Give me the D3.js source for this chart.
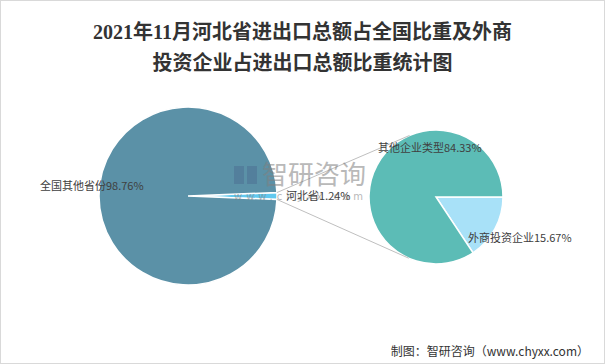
<!DOCTYPE html>
<html>
<head>
<meta charset="utf-8">
<style>
  body { margin: 0; background: #fff; }
  svg { display: block; }
  .title { font-family: "Liberation Serif", "Noto Sans CJK SC", serif; font-size: 20px; font-weight: bold; fill: #333; }
  .lbl { font-family: "Noto Sans CJK SC", sans-serif; font-size: 11px; fill: #404040; }
  .foot { font-family: "Noto Sans CJK SC", sans-serif; font-size: 12px; fill: #333; }
</style>
</head>
<body>
<script src="https://cdn.jsdelivr.net/npm/d3@7"></script>
<script>
// data
var titleLines = ["2021年11月河北省进出口总额占全国比重及外商", "投资企业占进出口总额比重统计图"];
var mainNames = ["河北省", "全国其他省份"];
var mainValues = [1.24, 98.76];
var subNames = ["外商投资企业", "其他企业类型"];
var subValues = [15.67, 84.33];
var source = "制图：智研咨询（www.chyxx.com）";

var W = 605, H = 364;
var svg = d3.select("body").append("svg").attr("width", W).attr("height", H);

svg.append("rect").attr("x", 0.5).attr("y", 0.5).attr("width", W - 1).attr("height", H - 1)
  .attr("fill", "#fff").attr("stroke", "#d9d9d9");

// title
svg.selectAll(".title").data(titleLines).enter().append("text")
  .attr("class", "title").attr("x", W / 2).attr("y", function (d, i) { return 39 + i * 31; })
  .attr("text-anchor", "middle").text(function (d) { return d; });

// left pie
var c1 = { x: 188, y: 196, r: 89 };
var c2 = { x: 436, y: 197, r: 67 };
var half = mainValues[0] / 100 * Math.PI; // small slice centred on the east side
var pie1 = d3.pie().sort(null).value(function (d) { return d; })
  .startAngle(Math.PI / 2 - half).endAngle(Math.PI / 2 - half + 2 * Math.PI);
var arcs1 = pie1(mainValues);
var arc1 = d3.arc().innerRadius(0).outerRadius(c1.r);
var col1 = ["#62c9ef", "#5b91a7"];

var g1 = svg.append("g").attr("transform", "translate(" + c1.x + "," + c1.y + ")");
g1.selectAll("path").data(arcs1).enter().append("path")
  .attr("d", arc1).attr("fill", function (d, i) { return col1[i]; })
  .attr("stroke", "#fff").attr("stroke-width", 1.5);

// right pie
var pie2 = d3.pie().sort(null).value(function (d) { return d; })
  .startAngle(Math.PI / 2).endAngle(Math.PI / 2 + 2 * Math.PI);
var arcs2 = pie2(subValues);
var arc2 = d3.arc().innerRadius(0).outerRadius(c2.r);
var col2 = ["#a8e1f8", "#5cbcb6"];

var g2 = svg.append("g").attr("transform", "translate(" + c2.x + "," + c2.y + ")");
g2.selectAll("path").data(arcs2).enter().append("path")
  .attr("d", arc2).attr("fill", function (d, i) { return col2[i]; })
  .attr("stroke", "#fff").attr("stroke-width", 1.5);

// connector lines: from small slice edges, tangent to second pie
var s = arcs1[0];
[s.startAngle, s.endAngle].forEach(function (a, k) {
  var px = c1.x + c1.r * Math.sin(a), py = c1.y - c1.r * Math.cos(a);
  var dx = px - c2.x, dy = py - c2.y, d = Math.sqrt(dx * dx + dy * dy);
  var base = Math.atan2(dy, dx), t = Math.acos(c2.r / d);
  var ang = k === 0 ? base + t : base - t;
  svg.append("line").attr("x1", px).attr("y1", py)
    .attr("x2", c2.x + c2.r * Math.cos(ang)).attr("y2", c2.y + c2.r * Math.sin(ang))
    .attr("stroke", "#bfbfbf").attr("stroke-width", 1);
});

// watermark
var wm = svg.append("g").attr("opacity", 0.55);
wm.append("rect").attr("x", 234).attr("y", 166).attr("width", 10).attr("height", 18).attr("fill", "#4d7194");
wm.append("rect").attr("x", 247).attr("y", 166).attr("width", 10).attr("height", 18).attr("fill", "#4d7194");
wm.append("text").attr("x", 262).attr("y", 184).attr("fill", "#808080")
  .style("font-family", "Noto Sans CJK SC").style("font-size", "26px").text("智研咨询");
wm.append("text").attr("x", 234).attr("y", 200).attr("fill", "#808080")
  .style("font-family", "DejaVu Sans").style("font-size", "10px").style("letter-spacing", "4px").text("www.chyxx.com");

// labels
var labels = [
  { text: mainNames[1] + mainValues[1].toFixed(2) + "%", x: c1.x - 148, y: c1.y - 6, anchor: "start" },
  { text: mainNames[0] + mainValues[0].toFixed(2) + "%", x: c1.x + c1.r + 9, y: c1.y + 4, anchor: "start" },
  { text: subNames[1] + subValues[1].toFixed(2) + "%", x: c2.x - 58, y: c2.y - 45, anchor: "start" },
  { text: subNames[0] + subValues[0].toFixed(2) + "%", x: c2.x + 32, y: c2.y + 45, anchor: "start" }
];
svg.selectAll(".lbl").data(labels).enter().append("text")
  .attr("class", "lbl").attr("x", function (d) { return d.x; }).attr("y", function (d) { return d.y; })
  .attr("text-anchor", function (d) { return d.anchor; }).text(function (d) { return d.text; });

// footer
svg.append("text").attr("class", "foot").attr("x", 589).attr("y", 356)
  .attr("text-anchor", "end").text(source);
</script>
</body>
</html>
